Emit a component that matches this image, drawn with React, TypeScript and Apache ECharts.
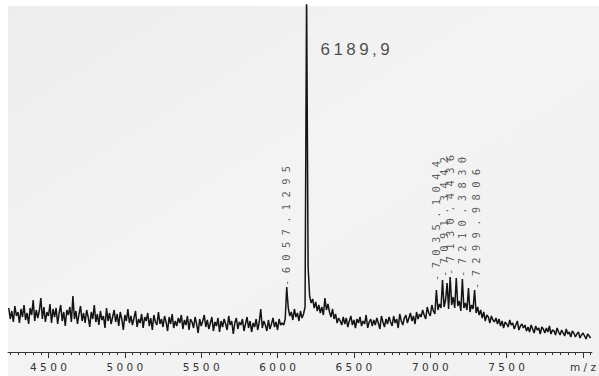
import React, { useEffect, useRef } from "react";
import * as echarts from "echarts";

// m/z sampling of the spectrum (one value every 10 units from 4240)
const mzStart = 4240;
const mzStep = 10;

// intensity (arbitrary units), one row = 100 m/z units
const intensity: number[] = [
  44, 33, 41, 30, 46, 36, 40, 29, 43, 35, // 4240
  47, 32, 39, 28, 44, 37, 52, 31, 42, 34, // 4340
  41, 54, 33, 45, 30, 40, 36, 48, 29, 43, // 4440
  35, 44, 28, 39, 47, 31, 40, 26, 42, 37, // 4540
  45, 30, 56, 33, 41, 28, 38, 46, 31, 39, // 4640
  29, 42, 35, 25, 40, 33, 47, 30, 38, 27, // 4740
  41, 32, 36, 24, 44, 31, 39, 28, 35, 42, // 4840
  30, 38, 26, 40, 33, 22, 37, 31, 43, 29, // 4940
  36, 27, 34, 41, 25, 33, 29, 38, 24, 35, // 5040
  31, 39, 26, 34, 22, 37, 30, 27, 40, 28, // 5140
  33, 25, 36, 30, 21, 35, 28, 38, 24, 31, // 5240
  26, 34, 29, 37, 23, 32, 27, 36, 22, 33, // 5340
  30, 24, 35, 28, 19, 33, 26, 31, 37, 25, // 5440
  32, 23, 29, 35, 21, 30, 26, 34, 20, 31, // 5540
  25, 33, 28, 22, 36, 27, 31, 18, 29, 34, // 5640
  23, 30, 27, 33, 21, 28, 35, 24, 31, 20, // 5740
  29, 25, 33, 22, 30, 43, 24, 31, 27, 21, // 5840
  32, 23, 28, 34, 25, 30, 22, 33, 27, 29, // 5940
  27, 33, 65, 44, 36, 40, 32, 43, 35, 39, // 6040
  31, 41, 34, 38, 45, 360, 85, 56, 49, 53, // 6140
  44, 50, 41, 47, 39, 45, 37, 54, 42, 48, // 6240
  40, 35, 43, 33, 38, 29, 34, 31, 27, 35, // 6340
  28, 34, 25, 31, 36, 27, 32, 24, 33, 29, // 6440
  35, 26, 31, 28, 37, 24, 30, 33, 26, 32, // 6540
  27, 34, 29, 23, 36, 30, 25, 33, 28, 35, // 6640
  30, 26, 36, 29, 33, 24, 38, 31, 27, 34, // 6740
  37, 29, 34, 39, 31, 36, 28, 40, 33, 38, // 6840
  35, 42, 37, 33, 45, 39, 36, 47, 41, 38, // 6940
  62, 42, 48, 44, 72, 45, 52, 69, 43, 75, // 7040
  47, 55, 44, 74, 46, 51, 41, 73, 44, 49, // 7140
  42, 64, 40, 47, 43, 62, 39, 45, 37, 42, // 7240
  34, 40, 31, 37, 35, 29, 36, 32, 30, 34, // 7340
  28, 33, 26, 31, 24, 30, 28, 25, 32, 27, // 7440
  29, 23, 27, 31, 22, 26, 28, 24, 27, 21, // 7540
  25, 20, 27, 23, 19, 26, 22, 24, 18, 25, // 7640
  23, 19, 24, 20, 26, 18, 22, 21, 17, 24, // 7740
  20, 17, 22, 19, 16, 23, 18, 20, 15, 21, // 7840
  19, 15, 18, 20, 14, 17, 19, 16, 13, 18, // 7940
  16, 14, // 8040
];

// annotated peaks (rotated labels)
const peakMz = [6057.1295, 7035.1044, 7091.3442, 7130.4436, 7210.383, 7299.9806];
const peakTop = [65, 70, 74, 76, 74, 62];
const peakText = ["-6057.1295", "-7035.1044", "-7091.3442", "-7130.4436", "-7210.3830", "-7299.9806"];

// main peak annotation
const mainPeakMz = [6189.9];
const mainPeakLabelLevel = [303];
const mainPeakText = ["6189,9"];

// axis ticks
const majorTicks = [4500, 5000, 5500, 6000, 6500, 7000, 7500, 8000];
const minorTicks: number[] = [];
for (let v = 4250; v <= 8050; v += 50) minorTicks.push(v);
const axisUnitLabel = "m/z";

const X_MIN = 4235;
const X_MAX = 8058;

const spaced = (s: string, sep = " ") => s.split("").join(sep);

export default function App() {
  const ref = useRef<HTMLDivElement>(null);
  useEffect(() => {
    if (!ref.current) return;
    const chart = echarts.init(ref.current, undefined, { renderer: "svg" });
    const lineData = intensity.map((v, i) => [mzStart + i * mzStep, v]);
    chart.setOption({
      animation: false,
      backgroundColor: "#ffffff",
      graphic: [
        {
          type: "rect",
          z: -10,
          shape: { x: 8, y: 6, width: 591, height: 370 },
          style: {
            fill: new echarts.graphic.LinearGradient(0, 0, 1, 1, [
              { offset: 0, color: "#ededed" },
              { offset: 0.45, color: "#f3f3f3" },
              { offset: 1, color: "#f1f1f1" },
            ]),
          },
          silent: true,
        },
      ],
      grid: { left: 8, right: 0, top: 5, bottom: 24, containLabel: false },
      xAxis: [
        {
          type: "value",
          min: X_MIN,
          max: X_MAX,
          position: "bottom",
          axisLine: { show: true, lineStyle: { color: "#333333", width: 1 } },
          axisTick: { show: true, length: 6, customValues: majorTicks, lineStyle: { color: "#333333" } },
          axisLabel: {
            show: true,
            customValues: majorTicks,
            margin: 9,
            fontFamily: "DejaVu Sans",
            fontSize: 10.5,
            color: "#333333",
            formatter: (v: number) => (v === 8000 ? spaced(axisUnitLabel, " ") : spaced(String(v))),
          },
          splitLine: { show: false },
        },
        {
          type: "value",
          min: X_MIN,
          max: X_MAX,
          position: "bottom",
          axisLine: { show: false },
          axisTick: { show: true, length: 3, customValues: minorTicks, lineStyle: { color: "#333333" } },
          axisLabel: { show: false },
          splitLine: { show: false },
        },
      ],
      yAxis: { type: "value", min: 0, max: 347, show: false },
      series: [
        {
          type: "line",
          data: lineData,
          showSymbol: false,
          symbol: "none",
          clip: true,
          lineStyle: { color: "#141414", width: 1.5 },
          z: 3,
        },
        {
          type: "scatter",
          symbolSize: 0,
          data: peakMz.map((m, i) => ({ value: [m, peakTop[i]], name: peakText[i] })),
          label: {
            show: true,
            position: "top",
            distance: 1,
            rotate: 90,
            align: "left",
            verticalAlign: "middle",
            fontFamily: "DejaVu Sans Mono",
            fontSize: 10.5,
            color: "#333333",
            formatter: (p: any) => spaced(p.name),
          },
          z: 4,
        },
        {
          type: "scatter",
          symbolSize: 0,
          data: mainPeakMz.map((m, i) => ({ value: [m, mainPeakLabelLevel[i]], name: mainPeakText[i] })),
          label: {
            show: true,
            position: "right",
            distance: 14,
            fontFamily: "Liberation Sans",
            fontSize: 17,
            color: "#1e1e1e",
            formatter: (p: any) => spaced(p.name, "\u2009"),
          },
          z: 4,
        },
      ],
    });
    return () => chart.dispose();
  }, []);
  return (
    <div
      ref={ref}
      style={{ position: "absolute", left: 0, top: 0, width: 599, height: 376, background: "#fff" }}
    />
  );
}
